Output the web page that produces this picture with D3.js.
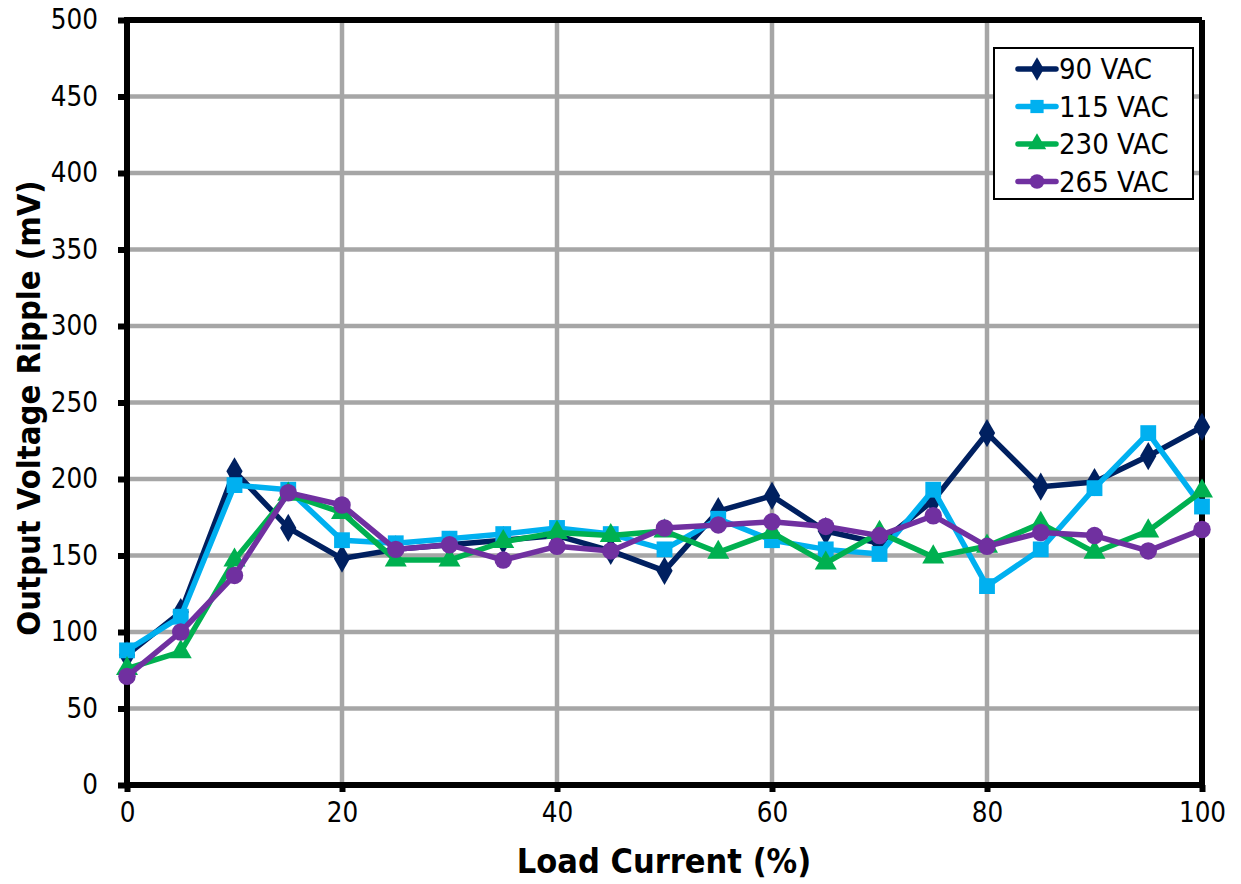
<!DOCTYPE html>
<html><head><meta charset="utf-8">
<script src="https://cdn.jsdelivr.net/npm/d3@7"></script>
<style>
body{margin:0;background:#fff;}
text{font-family:'DejaVu Sans Condensed','DejaVu Sans',sans-serif;}
</style></head>
<body><svg id="chart" width="1241" height="884"></svg>
<script>
const loadPct = [0,5,10,15,20,25,30,35,40,45,50,55,60,65,70,75,80,85,90,95,100];
const vac90  = [85,113,205,168,148,154,157,160,163,153,140,179,189,166,158,186,230,195,198,215,234];
const vac115 = [88,110,196,193,160,158,161,164,168,164,154,174,160,154,151,193,130,154,194,230,182];
const vac230 = [76,87,147,190,178,147,147,159,165,163,166,152,165,145,165,149,156,171,152,166,192];
const vac265 = [71,100,137,191,183,154,157,147,156,153,168,170,172,169,163,176,156,165,163,153,167];
const seriesNames = ["90 VAC","115 VAC","230 VAC","265 VAC"];
const xTicks = [0,20,40,60,80,100];
const yTicks = [0,50,100,150,200,250,300,350,400,450,500];

const series = [
  {name:seriesNames[0], values:vac90,  color:"#002060", sym:d3.symbolDiamond, size:230},
  {name:seriesNames[1], values:vac115, color:"#00b0f0", sym:d3.symbolSquare, size:250},
  {name:seriesNames[2], values:vac230, color:"#00b050", sym:d3.symbolTriangle, size:210},
  {name:seriesNames[3], values:vac265, color:"#7030a0", sym:d3.symbolCircle, size:240}
];

const svg = d3.select("#chart");
const L=127, R=1202, T=20, B=785;
const x = d3.scaleLinear().domain([0,100]).range([L,R]);
const y = d3.scaleLinear().domain([0,500]).range([B,T]);

// grid
const g = svg.append("g");
g.selectAll(".gx").data(xTicks).join("line")
  .attr("x1",d=>x(d)).attr("x2",d=>x(d)).attr("y1",T).attr("y2",B)
  .attr("stroke","#a6a6a6").attr("stroke-width",4.5);
g.selectAll(".gy").data(yTicks).join("line")
  .attr("x1",L).attr("x2",R).attr("y1",d=>y(d)).attr("y2",d=>y(d))
  .attr("stroke","#a6a6a6").attr("stroke-width",4.5);

// frame top/right
svg.append("line").attr("x1",L).attr("x2",R).attr("y1",T).attr("y2",T).attr("stroke","#000").attr("stroke-width",6);
svg.append("line").attr("x1",R).attr("x2",R).attr("y1",T).attr("y2",B).attr("stroke","#000").attr("stroke-width",6);

// axes
const xAxis = d3.axisBottom(x).tickValues(xTicks).tickSize(7).tickPadding(10).tickFormat(d3.format("d"));
const yAxis = d3.axisLeft(y).tickValues(yTicks).tickSize(9).tickPadding(20).tickFormat(d3.format("d"));
const gx = svg.append("g").attr("transform",`translate(0,${B})`).call(xAxis);
const gy = svg.append("g").attr("transform",`translate(${L},0)`).call(yAxis);
[gx,gy].forEach(a=>{
  a.select(".domain").attr("stroke","#000").attr("stroke-width",6);
  a.selectAll(".tick line").attr("stroke","#000").attr("stroke-width",6);
  a.selectAll("text").attr("font-size",27.5).attr("fill","#000")
    .attr("font-family","'DejaVu Sans Condensed','DejaVu Sans',sans-serif");
});
gy.select(".domain").attr("d",`M0,${T-3}V${B+3}`);
gx.select(".domain").attr("d",`M${L-3},0H${R+3}`);

// lines and markers
const line = d3.line().x((d,i)=>x(loadPct[i])).y(d=>y(d));
series.forEach(s=>{
  svg.append("path").datum(s.values).attr("d",line)
    .attr("fill","none").attr("stroke",s.color).attr("stroke-width",5.5).attr("stroke-linejoin","round");
  svg.append("g").selectAll("path").data(s.values).join("path")
    .attr("transform",(d,i)=>`translate(${x(loadPct[i])},${y(d)})`)
    .attr("d",d3.symbol().type(s.sym).size(s.size)).attr("fill",s.color);
});

// titles
svg.append("text").attr("x",664).attr("y",873).attr("text-anchor","middle")
  .attr("font-family","'DejaVu Sans',sans-serif")
  .attr("font-size",34).attr("font-weight","bold").text("Load Current (%)");
svg.append("text").attr("transform",`translate(40,${408}) rotate(-90)`).attr("text-anchor","middle")
  .attr("font-family","'DejaVu Sans',sans-serif")
  .attr("font-size",32.5).attr("font-weight","bold").text("Output Voltage Ripple (mV)");

// legend
const lg = svg.append("g");
lg.append("rect").attr("x",994).attr("y",48).attr("width",199).attr("height",151)
  .attr("fill","#fff").attr("stroke","#000").attr("stroke-width",2);
series.forEach((s,i)=>{
  const cy = 69 + i*37.5;
  lg.append("line").attr("x1",1018).attr("x2",1056).attr("y1",cy).attr("y2",cy)
    .attr("stroke",s.color).attr("stroke-width",5.5).attr("stroke-linecap","round");
  lg.append("path").attr("transform",`translate(1037,${cy})`)
    .attr("d",d3.symbol().type(s.sym).size(s.size*0.7)).attr("fill",s.color);
  lg.append("text").attr("x",1059).attr("y",cy+10).attr("font-size",29).text(s.name);
});
</script></body></html>
